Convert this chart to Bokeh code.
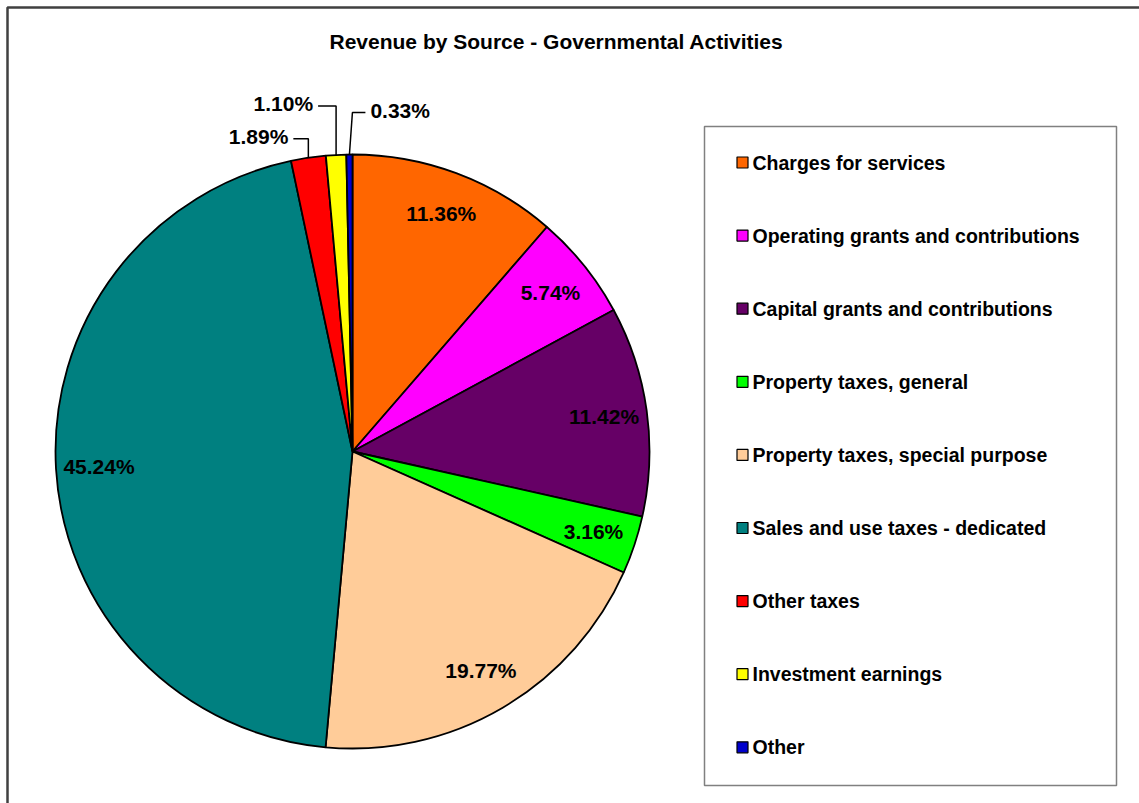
import math
from bokeh.plotting import figure
from bokeh.models import Range1d, ColumnDataSource
from bokeh.core.properties import value
from bokeh.embed import file_html
from bokeh.resources import INLINE

# ---- data ----
categories = [
    "Charges for services",
    "Operating grants and contributions",
    "Capital grants and contributions",
    "Property taxes, general",
    "Property taxes, special purpose",
    "Sales and use taxes - dedicated",
    "Other taxes",
    "Investment earnings",
    "Other",
]
shares = [11.36, 5.74, 11.42, 3.16, 19.77, 45.24, 1.89, 1.10, 0.33]
pct_labels = ["11.36%", "5.74%", "11.42%", "3.16%", "19.77%", "45.24%", "1.89%", "1.10%", "0.33%"]
colors = ["#FF6600", "#FF00FF", "#660066", "#00FF00", "#FFCC99", "#008080", "#FF0000", "#FFFF00", "#0000CC"]
title = "Revenue by Source - Governmental Activities"

# ---- layout ----
W, H = 1139, 803
FONT = value("Liberation Sans")
cx, cy, R = 352, H - 451, 297

p = figure(width=W, height=H, x_range=Range1d(0, W), y_range=Range1d(0, H),
           output_backend="svg", toolbar_location=None,
           x_axis_type=None, y_axis_type=None, min_border=0)
p.grid.visible = False
p.outline_line_color = None
p.background_fill_color = "white"
p.border_fill_color = "white"

# outer chart border (extends past the right/bottom edge)
p.line(x=[7, 7, W + 20], y=[-20, H - 7, H - 7], line_color="#404040", line_width=2.5)

# title
p.text(x=[556], y=[H - 41], text=[title], text_font=FONT, text_font_style="bold",
       text_font_size="21px", text_align="center", text_baseline="middle", text_color="black")

# ---- pie ----
total = sum(shares)
starts, ends, mids = [], [], []
cum = 0.0
for s in shares:
    a0 = math.pi / 2 - 2 * math.pi * cum / total
    cum += s
    a1 = math.pi / 2 - 2 * math.pi * cum / total
    starts.append(a1)
    ends.append(a0)
    mids.append((a0 + a1) / 2)

src = ColumnDataSource(dict(start=starts, end=ends, color=colors))
p.wedge(x=cx, y=cy, radius=R, start_angle="start", end_angle="end", fill_color="color",
        line_color="black", line_width=1.8, source=src)

# inside labels
inside = [i for i, s in enumerate(shares) if s >= 3]
lr = 0.855 * R
p.text(x=[cx + lr * math.cos(mids[i]) for i in inside],
       y=[cy + lr * math.sin(mids[i]) for i in inside],
       text=[pct_labels[i] for i in inside], text_font=FONT, text_font_style="bold",
       text_font_size="21px", text_align="center", text_baseline="middle", text_color="black")

# outside labels with leader lines
outside = [i for i, s in enumerate(shares) if s < 3]
leader_up = {6: 19, 7: 49, 8: 42}
leader_side = {6: -15, 7: -18, 8: 13}
for i in outside:
    ex = cx + R * math.cos(mids[i])
    ey = cy + R * math.sin(mids[i])
    ky = ey + leader_up[i]
    kx = ex + (3 if i == 8 else 0)
    hx = kx + leader_side[i]
    p.line(x=[ex, kx, hx], y=[ey, ky, ky], line_color="black", line_width=1.5)
    left = leader_side[i] < 0
    p.text(x=[hx - 5 if left else hx + 5], y=[ky + 2], text=[pct_labels[i]], text_font=FONT,
           text_font_style="bold", text_font_size="21px",
           text_align="right" if left else "left", text_baseline="middle", text_color="black")

# ---- legend ----
p.quad(left=[704], right=[1116], top=[H - 126], bottom=[H - 785], fill_color="white",
       line_color="#808080", line_width=1.5)
ly0, lstep = H - 162, 73.1
ly = [ly0 - k * lstep for k in range(len(categories))]
p.scatter(x=[742] * len(categories), y=ly, marker="square", size=11, fill_color=colors,
          line_color="black", line_width=1.2)
p.text(x=[752] * len(categories), y=ly, text=categories, text_font=FONT, text_font_style="bold",
       text_font_size="19.5px", text_align="left", text_baseline="middle", text_color="black")

open("out.html", "w").write(file_html(p, INLINE))
